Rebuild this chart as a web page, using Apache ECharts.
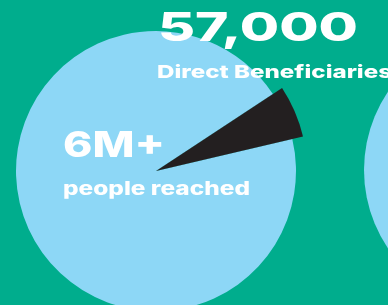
<!DOCTYPE html>
<html>
<head>
<meta charset="utf-8">
<script src="https://cdn.jsdelivr.net/npm/echarts@6/dist/echarts.min.js"></script>
<style>
html,body{margin:0;padding:0;background:#00AD8D;}
#chart{width:388px;height:305px;}
</style>
</head>
<body>
<div id="chart"></div>
<script>
// Data
const categories = ['Direct Beneficiaries', 'people reached'];
const sliceShares = [5.6, 94.4];          // dark wedge vs. rest of the main disc (percent of angle)
const nextCircleValues = [100];           // neighbouring (cropped) disc at the right edge
const bigLabels = ['57,000', '6M+'];
const smallLabels = ['Direct Beneficiaries', 'people reached'];

const BG = '#00AD8D', LIGHT = '#8DD7F6', DARK = '#231F20';
const FONT = 'Inter';

const ctx = document.createElement('canvas').getContext('2d');
function fitText(text, size, x, yMid, targetW) {
  const font = '800 ' + size + 'px "' + FONT + '", "DejaVu Sans"';
  ctx.font = font;
  const w = ctx.measureText(text).width;
  return {
    type: 'text', x: x, y: yMid, originX: 0, originY: 0,
    scaleX: targetW / w, silent: true, z: 10,
    style: { text: text, font: font, fill: '#ffffff', align: 'left', verticalAlign: 'middle' }
  };
}

const chart = echarts.init(document.getElementById('chart'), null, {renderer: 'canvas'});
const common = { type: 'pie', silent: true, animation: false, label: {show: false}, labelLine: {show: false},
  emphasis: {disabled: true}, itemStyle: {borderWidth: 0} };

chart.setOption({
  backgroundColor: BG,
  animation: false,
  series: [
    Object.assign({}, common, {
      name: 'base', center: [156, 171], radius: [0, 140], startAngle: 33.4, z: 1,
      data: [
        {name: categories[0], value: sliceShares[0], itemStyle: {color: LIGHT}},
        {name: categories[1], value: sliceShares[1], itemStyle: {color: LIGHT}}
      ]
    }),
    Object.assign({}, common, {
      name: 'wedge', center: [156, 171], radius: [0, 151], startAngle: 33.4, z: 2,
      data: [
        {name: categories[0], value: sliceShares[0], itemStyle: {color: DARK}},
        {name: categories[1], value: sliceShares[1], itemStyle: {color: 'rgba(0,0,0,0)'}}
      ]
    }),
    Object.assign({}, common, {
      name: 'next', center: [504, 170], radius: [0, 140], z: 1,
      data: nextCircleValues.map(v => ({value: v, itemStyle: {color: LIGHT}}))
    })
  ],
  graphic: [
    fitText(bigLabels[0], 40, 158, 28.5, 200),
    fitText(smallLabels[0], 18, 157, 72.5, 235),
    fitText(bigLabels[1], 36, 63, 146, 102),
    fitText(smallLabels[1], 19, 63, 189.5, 187)
  ]
});
</script>
</body>
</html>
